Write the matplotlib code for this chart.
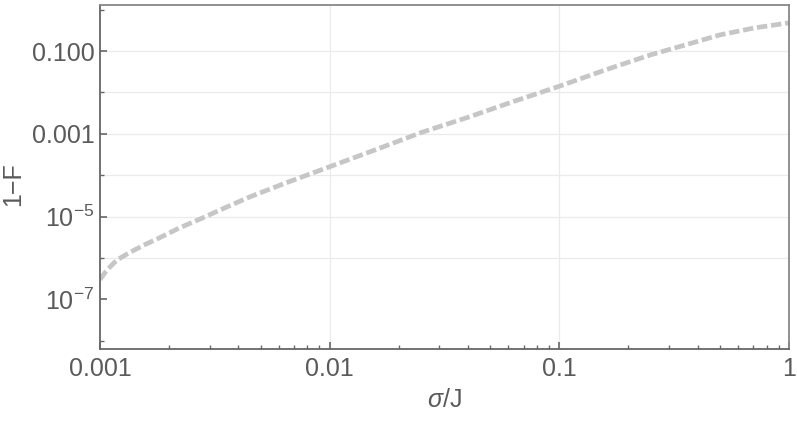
# -*- coding: utf-8 -*-
import numpy as np
import matplotlib
matplotlib.use('Agg')
import matplotlib.pyplot as plt
from matplotlib.ticker import FixedLocator, FixedFormatter, NullFormatter

plt.rcParams['font.family'] = ['Liberation Sans', 'DejaVu Sans']
plt.rcParams['mathtext.fontset'] = 'custom'
plt.rcParams['mathtext.rm'] = 'Liberation Sans'
plt.rcParams['mathtext.it'] = 'Liberation Sans:italic'
plt.rcParams['axes.unicode_minus'] = True

# data
sigma = [0.001, 0.00105, 0.0011, 0.00115, 0.0012, 0.00129, 0.00141, 0.00158,
         0.00178, 0.0022, 0.0028, 0.0035, 0.0045, 0.0063, 0.01, 0.016, 0.025,
         0.04, 0.063, 0.1, 0.16, 0.25, 0.355, 0.5, 0.71, 1.0]
infid = [3.0e-7, 4.4e-7, 5.9e-7, 7.6e-7, 9.3e-7, 1.18e-6, 1.55e-6, 2.14e-6,
         2.9e-6, 5.2e-6, 9.3e-6, 1.63e-5, 3.0e-5, 6.2e-5, 1.6e-4, 4.2e-4,
         1.07e-3, 2.5e-3, 6.0e-3, 0.0141, 0.0355, 0.081, 0.141, 0.245,
         0.363, 0.479]

x_major = [0.001, 0.01, 0.1, 1]
x_labels = ['0.001', '0.01', '0.1', '1']
y_major = [1e-7, 1e-5, 1e-3, 1e-1]
y_labels = [r'10$^{\mathregular{-7}}$', r'10$^{\mathregular{-5}}$', '0.001', '0.100']
y_minor = [1e-8, 1e-6, 1e-4, 1e-2, 1]
y_grid = [1e-6, 1e-5, 1e-4, 1e-3, 1e-2, 1e-1]
x_grid = [0.01, 0.1]

fig = plt.figure(figsize=(7.97, 4.22), dpi=100)
ax = fig.add_axes([0.1255, 0.173, 0.8645, 0.815])

for g in y_grid:
    ax.axhline(g, color='#ebebeb', lw=0.9, zorder=0)
for g in x_grid:
    ax.axvline(g, color='#ebebeb', lw=0.9, zorder=0)

line, = ax.plot(sigma, infid, color='#c6c6c6', lw=3.4, solid_capstyle='butt')
line.set_dashes((2.2, 0.8))
line.set_dash_capstyle('butt')

ax.set_xscale('log')
ax.set_yscale('log')
ax.set_xlim(0.001, 1)
ax.set_ylim(10**-8.2, 10**0.11)

ax.xaxis.set_major_locator(FixedLocator(x_major))
ax.xaxis.set_major_formatter(FixedFormatter(x_labels))
x_minor = [m * d for d in [0.001, 0.01, 0.1] for m in range(2, 10)]
ax.xaxis.set_minor_locator(FixedLocator(x_minor))
ax.xaxis.set_minor_formatter(NullFormatter())

ax.yaxis.set_major_locator(FixedLocator(y_major))
ax.yaxis.set_major_formatter(FixedFormatter(y_labels))
ax.yaxis.set_minor_locator(FixedLocator(y_minor))
ax.yaxis.set_minor_formatter(NullFormatter())

ax.tick_params(which='both', direction='in', top=False, right=False,
               colors='#666666', labelcolor='#5a5a5a', labelsize=18)
ax.tick_params(which='major', length=5, width=1.2)
ax.tick_params(which='minor', length=3, width=1.0)
ax.tick_params(axis='x', pad=6)
ax.tick_params(axis='y', pad=4)

for s in ['left', 'bottom']:
    ax.spines[s].set_color('#666666')
    ax.spines[s].set_linewidth(1.3)
for s in ['top', 'right']:
    ax.spines[s].set_color('#888888')
    ax.spines[s].set_linewidth(1.3)

ax.set_xlabel(r'$\mathit{\sigma}$/J', fontsize=18, color='#5a5a5a', labelpad=5)
ax.set_ylabel('1\u2212F', fontsize=18, color='#5a5a5a')
ax.yaxis.set_label_coords(-0.108, 0.48)

fig.savefig('out.png', dpi=100)
